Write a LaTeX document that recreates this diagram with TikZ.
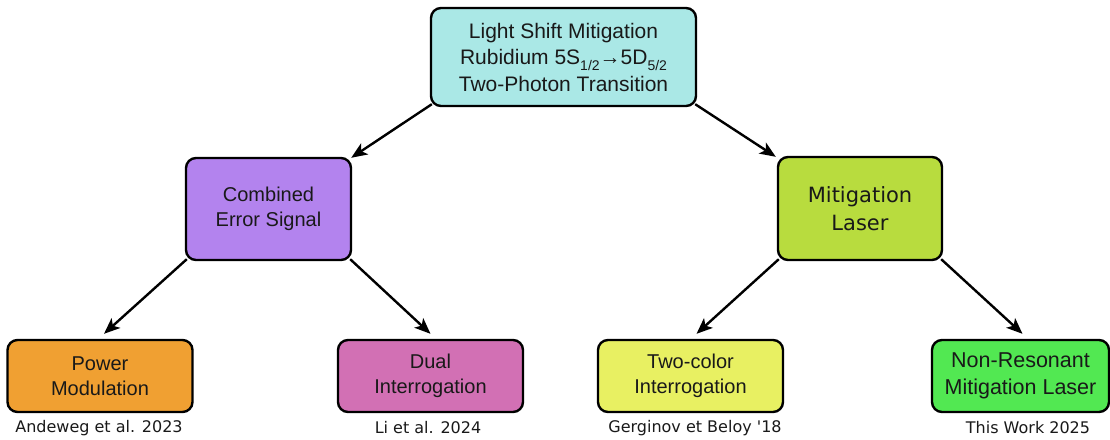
\documentclass[tikz,border=0pt]{standalone}
\usepackage{fontspec}
\setmainfont{Liberation Sans}
\newfontfamily\verd{DejaVu Sans}
\usetikzlibrary{arrows.meta}
\definecolor{cTop}{HTML}{AAE8E6}
\definecolor{cCes}{HTML}{B383EE}
\definecolor{cMl}{HTML}{B8DC3E}
\definecolor{cPm}{HTML}{F0A032}
\definecolor{cDi}{HTML}{D270B4}
\definecolor{cTc}{HTML}{E8F062}
\definecolor{cNr}{HTML}{52E852}
\newcommand{\sbs}[1]{\raisebox{-0.28em}{\fontsize{14}{14}\selectfont #1}}
\tikzset{
  box/.style={draw=black, line width=2.4pt, rounded corners=10pt, align=center,
    inner sep=0pt, text=black!90, font=\fontsize{20}{25}\selectfont},
  citelabel/.style={font=\verd\fontsize{16}{18}\selectfont, text=black!90, inner sep=0pt},
  arr/.style={line width=2.4pt, -{Stealth[length=16pt,width=13pt,inset=4pt]}}
}
\begin{document}
\begin{tikzpicture}[x=1pt,y=-1pt]
\useasboundingbox (0,0) rectangle (1110,439);
\node[box, fill=cTop, minimum width=265pt, minimum height=98pt,
  font=\fontsize{21}{26.5}\selectfont] (top) at (563.5,57)
  {Light Shift Mitigation\\Rubidium 5S\sbs{1/2}→5D\sbs{5/2}\\Two-Photon Transition};
\node[box, fill=cCes, minimum width=165pt, minimum height=102pt] (ces) at (268.5,209)
  {Combined\\Error Signal};
\node[box, fill=cMl, minimum width=164pt, minimum height=103pt,
  font=\verd\fontsize{21}{28}\selectfont] (ml) at (860,208.5)
  {Mitigation\\Laser};
\node[box, fill=cPm, minimum width=185pt, minimum height=72pt] (pm) at (100,376)
  {Power\\Modulation};
\node[box, fill=cDi, minimum width=185pt, minimum height=72pt] (di) at (430.5,376)
  {Dual\\Interrogation};
\node[box, fill=cTc, minimum width=185pt, minimum height=72pt] (tc) at (690.5,376)
  {Two-color\\Interrogation};
\node[box, fill=cNr, minimum width=177pt, minimum height=72pt,
  font=\fontsize{21.5}{27}\selectfont] (nr) at (1020.5,376)
  {Non-Resonant\\Mitigation Laser};
\node[citelabel] (cpm) at (99,428) {Andeweg et al. 2023};
\node[citelabel] (cdi) at (428,428) {Li et al. 2024};
\node[citelabel] (ctc) at (695,428) {Gerginov et Beloy '18};
\node[citelabel] (cnr) at (1028,428) {This Work 2025};
\draw[arr] ([xshift=2pt,yshift=3pt]top.south west) -- ([xshift=-1pt,yshift=-1pt]ces.north east);
\draw[arr] ([xshift=-2pt,yshift=3pt]top.south east) -- ([xshift=-1pt,yshift=-1pt]ml.north west);
\draw[arr] ([xshift=2pt,yshift=2pt]ces.south west) -- ([xshift=4pt,yshift=5pt]pm.north);
\draw[arr] ([xshift=-2pt,yshift=2pt]ces.south east) -- ([xshift=0pt,yshift=5pt]di.north);
\draw[arr] ([xshift=2pt,yshift=2pt]ml.south west) -- ([xshift=6pt,yshift=5pt]tc.north);
\draw[arr] ([xshift=-2pt,yshift=2pt]ml.south east) -- ([xshift=2pt,yshift=5pt]nr.north);
\end{tikzpicture}
\end{document}
